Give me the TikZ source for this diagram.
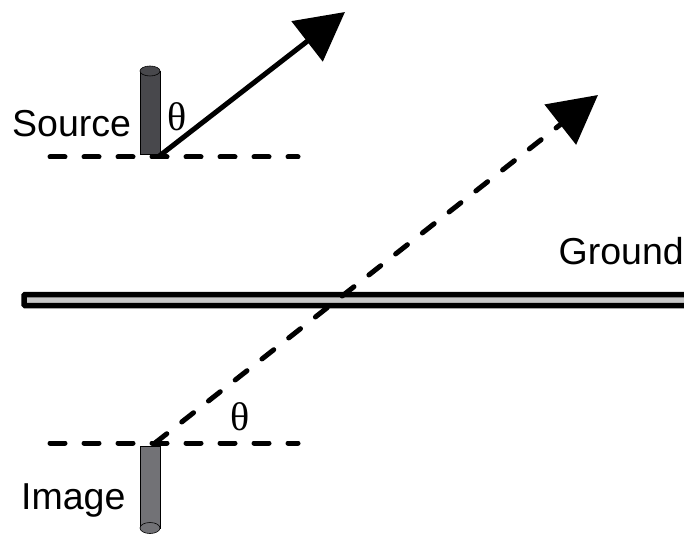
\documentclass[tikz,border=0pt]{standalone}
\usepackage{fontspec}
\setmainfont{Liberation Sans}
\newfontfamily\thetafont{Liberation Serif}
\usetikzlibrary{positioning, arrows.meta}

\definecolor{srcgray}{HTML}{48484C}
\definecolor{imggray}{HTML}{727276}
\definecolor{groundgray}{HTML}{C8C8C8}

\begin{document}
\begin{tikzpicture}[
  x=1pt, y=-1pt,
  label/.style={font=\fontsize{37.5}{40}\selectfont, inner sep=0pt, anchor=base west},
  angle/.style={font=\thetafont\fontsize{40}{44}\selectfont, inner sep=0pt, anchor=base west},
  cyl/.style={draw=black, line width=0.6pt},
  refline/.style={line width=5pt, line cap=round, dash pattern=on 15pt off 19pt},
  ray/.style={line width=5pt, -{Triangle[length=48pt, width=50pt]}}
]
  \useasboundingbox (0,0) rectangle (684,534);

  % Ground plane
  \draw[line width=5.5pt, fill=groundgray, rounded corners=1pt] (24,294.5) rectangle (710,305.5);
  \node[label, anchor=base east] (ground) at (684,265) {Ground};

  % Source antenna
  \draw[cyl, fill=srcgray] (140,71) rectangle (160,154);
  \draw[cyl, fill=srcgray] (150,71) ellipse [x radius=10pt, y radius=5pt];
  \node[label] (source) at (12,137) {Source};

  % Image antenna
  \draw[cyl, fill=imggray] (140,446) rectangle (160,528);
  \draw[cyl, fill=imggray] (150,528) ellipse [x radius=10pt, y radius=5.5pt];
  \node[label] (image) at (21,509) {Image};

  % Reference lines
  \coordinate (src) at (158,157);
  \coordinate (img) at (155,443);
  \coordinate (srcl) at (50,157);
  \coordinate (srcr) at (298,157);
  \coordinate (imgl) at (50,443);
  \coordinate (imgr) at (298,443);
  \draw[refline] (srcl) -- (srcr);
  \draw[refline] (imgl) -- (imgr);

  % Rays
  \coordinate (srctip) at (345,12);
  \coordinate (imgtip) at (598,95);
  \draw[ray] (src) -- (srctip);
  \draw[ray, refline] (img) -- (imgtip);

  % Angles
  \node[angle] (thsrc) at (167,131) {θ};
  \node[angle] (thimg) at (230,430) {θ};
\end{tikzpicture}
\end{document}
